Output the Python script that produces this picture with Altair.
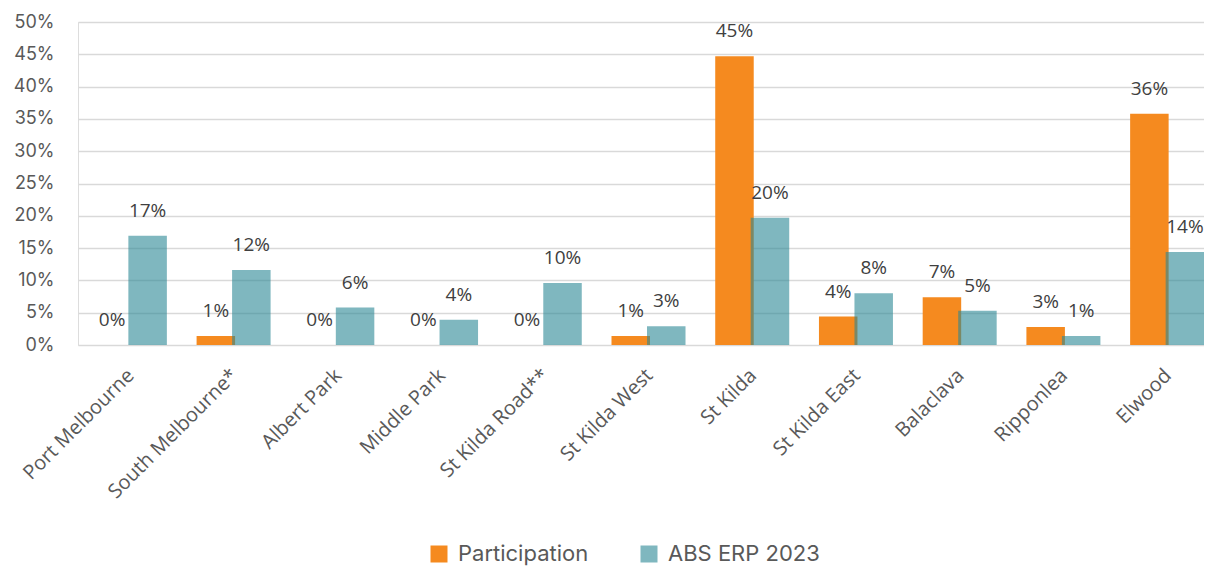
import altair as alt
import pandas as pd

suburbs = ["Port Melbourne", "South Melbourne*", "Albert Park", "Middle Park",
           "St Kilda Road**", "St Kilda West", "St Kilda", "St Kilda East",
           "Balaclava", "Ripponlea", "Elwood"]
participation = [0.0, 0.014, 0.0, 0.0, 0.0, 0.014, 0.447, 0.044, 0.074, 0.028, 0.358]
abs_erp = [0.169, 0.116, 0.058, 0.039, 0.096, 0.029, 0.197, 0.080, 0.053, 0.014, 0.144]
series_names = ["Participation", "ABS ERP 2023"]
y_ticks = [0.0, 0.05, 0.10, 0.15, 0.20, 0.25, 0.30, 0.35, 0.40, 0.45, 0.50]

rows = []
for s, p, a in zip(suburbs, participation, abs_erp):
    rows.append({"suburb": s, "series": series_names[0], "value": p})
    rows.append({"suburb": s, "series": series_names[1], "value": a})
df = pd.DataFrame(rows)

ORANGE = "#F58A1F"
TEAL_LEGEND = "#7FB7BF"
TEAL_BASE = "#2A8794"

x_enc = alt.X("suburb:N", sort=suburbs,
              scale=alt.Scale(domain=suburbs, range=[0, 1141], paddingInner=0, paddingOuter=0),
              axis=alt.Axis(title=None, labelAngle=-45, labelFont="Open Sans", labelFontSize=20,
                            labelColor="#595959", domain=False, ticks=False, labelPadding=20,
                            labelOffset=-6))
y_enc = alt.Y("value:Q",
              scale=alt.Scale(domain=[0, 0.5], nice=False),
              axis=alt.Axis(title=None, values=y_ticks, format=".0%", labelFont="Inter",
                            labelFontSize=18, labelColor="#595959", labelPadding=24,
                            domain=False, ticks=False, gridColor="#D9D9D9", gridWidth=1.6))

base = alt.Chart(df)

orange_bars = base.transform_filter(alt.datum.series == series_names[0]).mark_bar(
    size=38.5, xOffset=-17.75
).encode(
    x=x_enc, y=y_enc,
    color=alt.Color("series:N",
                    scale=alt.Scale(domain=series_names, range=[ORANGE, TEAL_LEGEND]),
                    legend=alt.Legend(title=None, orient="none", legendX=350, legendY=521,
                                      direction="horizontal", symbolType="square",
                                      symbolSize=289, symbolStrokeWidth=0,
                                      labelFont="Inter", labelFontSize=22,
                                      labelColor="#595959", labelOffset=8,
                                      columnPadding=49))
)

teal_bars = base.transform_filter(alt.datum.series == series_names[1]).mark_bar(
    size=38.5, xOffset=17.75, color=TEAL_BASE, opacity=0.6
).encode(x=x_enc, y=y_enc)

orange_text = base.transform_filter(alt.datum.series == series_names[0]).mark_text(
    xOffset=-17.75, dy=-25, font="Open Sans", fontSize=19, color="#404040", baseline="middle"
).encode(x=x_enc, y=y_enc, text=alt.Text("value:Q", format=".0%"))

teal_text = base.transform_filter(alt.datum.series == series_names[1]).mark_text(
    xOffset=17.75, dy=-25, font="Open Sans", fontSize=19, color="#404040", baseline="middle"
).encode(x=x_enc, y=y_enc, text=alt.Text("value:Q", format=".0%"))

chart = alt.layer(orange_bars, teal_bars, orange_text, teal_text).properties(
    width=1126, height=323,
    autosize=alt.AutoSizeParams(type="none"),
    padding={"left": 70, "top": 14, "right": 0, "bottom": 221},
).configure_view(stroke=None).configure(background="white")

chart.save("out.html", embed_options={"renderer": "svg", "actions": False})
